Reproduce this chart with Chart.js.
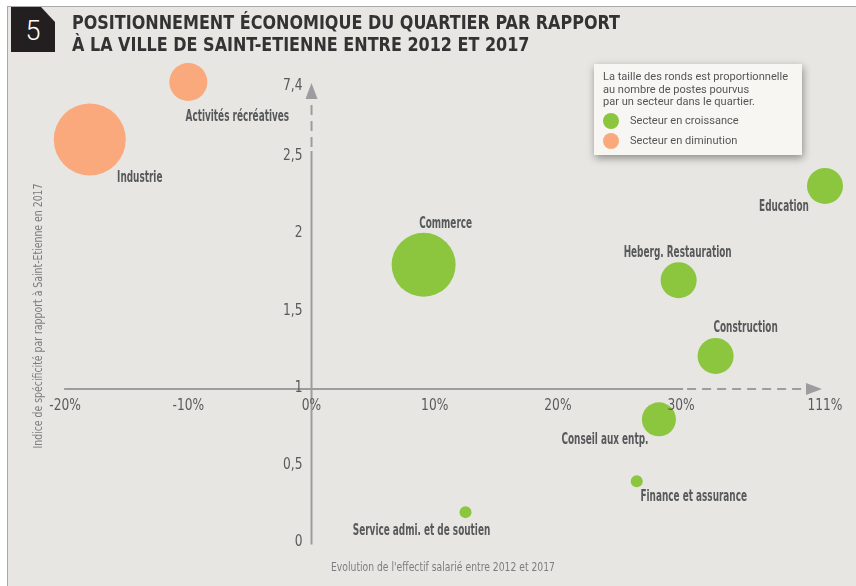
<!DOCTYPE html>
<html lang="fr">
<head>
<meta charset="utf-8">
<script src="https://cdn.jsdelivr.net/npm/chart.js@4.4.0/dist/chart.umd.min.js"></script>
<style>
  html, body { margin: 0; padding: 0; background: #fff; }
  body { width: 856px; height: 586px; position: relative; overflow: hidden; }
  #panel { position: absolute; left: 7px; top: 6px; right: -2px; bottom: -2px; background: #e7e6e2; border-top: 1px solid #a9a9a9; border-left: 1px solid #a9a9a9; }
  #num { position: absolute; left: 11px; top: 7px; width: 44px; height: 45px; background: #231f20; clip-path: polygon(0 0, 30px 0, 44px 15px, 44px 45px, 0 45px); color: #fff; font: 300 27px Roboto, sans-serif; text-align: center; line-height: 48px; }
  #titre { position: absolute; left: 72px; top: 11px; color: #333; font-family: "Liberation Sans Narrow", "DejaVu Sans Condensed", sans-serif; font-weight: bold; font-size: 20px; line-height: 22px; white-space: nowrap; transform-origin: left top; }
  #titre span { display: inline-block; }
  #graph { position: absolute; left: 0; top: 0; }
  #legende { position: absolute; left: 594px; top: 64px; width: 208px; height: 91px; background: #f7f6f3; box-shadow: 1px 3px 8px rgba(0,0,0,0.4); font-family: Roboto, "Noto Sans", sans-serif; color: #555; font-size: 11.5px; }
  #legende div { position: absolute; left: 9px; white-space: nowrap; line-height: 13px; transform-origin: left center; }
  #legende .rond { width: 16px; height: 16px; border-radius: 50%; left: 9px; }
  #legende .item { left: 36px; }
</style>
</head>
<body>
<div id="panel"></div>
<canvas id="graph" width="856" height="586"></canvas>
<div id="num">5</div>
<div id="titre"><span id="ligne1">POSITIONNEMENT ÉCONOMIQUE DU QUARTIER PAR RAPPORT</span><br><span>À LA VILLE DE SAINT-ETIENNE ENTRE 2012 ET 2017</span></div>
<div id="legende">
  <div id="leg1" style="top:6px">La taille des ronds est proportionnelle</div>
  <div style="top:19px">au nombre de postes pourvus</div>
  <div style="top:31px">par un secteur dans le quartier.</div>
  <div class="rond" style="top:49px; background:#8cc63f"></div>
  <div class="item" style="top:50px">Secteur en croissance</div>
  <div class="rond" style="top:69px; background:#f9a97c"></div>
  <div class="item" style="top:70px">Secteur en diminution</div>
</div>
<script>
// données
const secteurs = ['Industrie', 'Activités récréatives', 'Commerce', 'Education', 'Heberg. Restauration',
    'Construction', 'Conseil aux entp.', 'Finance et assurance', 'Service admi. et de soutien'];
const evolution = [-18, -10, 9.1, 111, 29.8, 32.8, 28.2, 26.4, 12.5];       // %
const specificite = [2.6, 7.4, 1.79, 2.3, 1.69, 1.2, 0.79, 0.39, 0.19];
const rayons = [36, 19, 32, 18, 18, 18, 17, 6, 6];                          // taille des ronds
const croissance = [false, false, true, true, true, true, true, true, true];

const ticksX = [-20, -10, 0, 10, 20, 30, 111];
const labelsX = ['-20%', '-10%', '0%', '10%', '20%', '30%', '111%'];
const ticksY = [0, 0.5, 1, 1.5, 2, 2.5, 7.4];
const labelsY = ['0', '0,5', '1', '1,5', '2', '2,5', '7,4'];

// décalage des étiquettes par rapport au centre des ronds
const decalages = [[50, 39], [49, 35], [22, -41], [-41, 21], [-1, -27], [30, -28], [-54, 21], [57, 16], [-44, 19]];

const VERT = '#8cc63f';
const ORANGE = '#f9a97c';
const GRIS = '#58595b';
const NARROW = '"Liberation Sans Narrow", "DejaVu Sans Condensed", sans-serif';

/* axes coupés */
function posX(v) { return v > 35 ? 35 + (v - 35) * (6.68 / 76) : v; }
function posY(v) { return v > 2.7 ? 2.7 + (v - 2.7) * (0.272 / 4.7) : v; }

function points(flag) {
    const pts = [];
    secteurs.forEach((s, i) => {
        if (croissance[i] === flag) pts.push({ x: posX(evolution[i]), y: posY(specificite[i]), r: rayons[i], i: i });
    });
    return pts;
}

function texte(ctx, s, x, y, sx) {
    ctx.save();
    ctx.translate(x, y);
    ctx.scale(sx, 1);
    ctx.fillText(s, 0, 0);
    ctx.restore();
}

function echelle(ctx, ref, largeur) {
    return largeur / ctx.measureText(ref).width;
}

const habillage = {
    id: 'habillage',
    beforeDatasetsDraw(chart) {
        const { ctx, scales: { x, y } } = chart;
        const x0 = x.getPixelForValue(0);
        const yAxe = y.getPixelForValue(1) + 2;
        ctx.save();
        ctx.strokeStyle = '#9d9d9f';
        ctx.fillStyle = '#9d9d9f';
        ctx.lineWidth = 2;

        // axe horizontal
        const xa = x.getPixelForValue(-20) - 1;
        const xb = x.getPixelForValue(30) + 2;
        const xTip = x.getPixelForValue(posX(111)) - 3;
        ctx.beginPath(); ctx.moveTo(xa, yAxe); ctx.lineTo(xb, yAxe); ctx.stroke();
        ctx.setLineDash([9, 6]);
        ctx.beginPath(); ctx.moveTo(xb + 4, yAxe); ctx.lineTo(xTip - 15, yAxe); ctx.stroke();
        ctx.setLineDash([]);
        ctx.beginPath(); ctx.moveTo(xTip, yAxe); ctx.lineTo(xTip - 16, yAxe - 6); ctx.lineTo(xTip - 16, yAxe + 6); ctx.closePath(); ctx.fill();

        // axe vertical
        const ya = y.getPixelForValue(0) + 3;
        const yb = y.getPixelForValue(2.5) - 4;
        const yTip = y.getPixelForValue(posY(7.4)) + 1;
        ctx.beginPath(); ctx.moveTo(x0, ya); ctx.lineTo(x0, yb); ctx.stroke();
        ctx.setLineDash([10, 6]);
        ctx.beginPath(); ctx.moveTo(x0, yb - 4); ctx.lineTo(x0, yTip + 15); ctx.stroke();
        ctx.setLineDash([]);
        ctx.beginPath(); ctx.moveTo(x0, yTip); ctx.lineTo(x0 - 6, yTip + 16); ctx.lineTo(x0 + 6, yTip + 16); ctx.closePath(); ctx.fill();
        ctx.restore();
    },
    afterDatasetsDraw(chart) {
        const { ctx, scales: { x, y } } = chart;
        const x0 = x.getPixelForValue(0);
        const yAxe = y.getPixelForValue(1) + 2;
        ctx.save();

        // graduations
        ctx.font = '15px ' + NARROW;
        ctx.fillStyle = '#5a5a5c';
        ctx.textBaseline = 'middle';
        let sx = echelle(ctx, '111%', 35);
        ctx.textAlign = 'center';
        ticksX.forEach((t, i) => texte(ctx, labelsX[i], x.getPixelForValue(posX(t)), yAxe + 17, sx));
        ctx.textAlign = 'right';
        ticksY.forEach((t, i) => texte(ctx, labelsY[i], x0 - 9, y.getPixelForValue(posY(t)) + (t > 5 ? 4 : 1), sx));

        // titres des axes
        ctx.font = '13px ' + NARROW;
        ctx.fillStyle = '#7d7d7f';
        ctx.textAlign = 'center';
        const tx = "Evolution de l'effectif salarié entre 2012 et 2017";
        texte(ctx, tx, 443, 568, echelle(ctx, tx, 224));
        const ty = 'Indice de spécificité par rapport à Saint-Etienne en 2017';
        ctx.save();
        ctx.translate(39, 316);
        ctx.rotate(-Math.PI / 2);
        texte(ctx, ty, 0, 0, echelle(ctx, ty, 265));
        ctx.restore();

        // étiquettes des secteurs
        ctx.font = 'bold 15px ' + NARROW;
        ctx.fillStyle = GRIS;
        ctx.textAlign = 'center';
        sx = echelle(ctx, 'Heberg. Restauration', 108);
        chart.data.datasets.forEach((ds, d) => {
            chart.getDatasetMeta(d).data.forEach((el, j) => {
                const i = ds.data[j].i;
                texte(ctx, secteurs[i], el.x + decalages[i][0], el.y + decalages[i][1], sx);
            });
        });
        ctx.restore();
    }
};

new Chart(document.getElementById('graph'), {
    type: 'bubble',
    data: {
        datasets: [{
            label: 'Secteur en croissance',
            data: points(true),
            backgroundColor: VERT,
            borderWidth: 0,
            clip: false
        }, {
            label: 'Secteur en diminution',
            data: points(false),
            backgroundColor: ORANGE,
            borderWidth: 0,
            clip: false
        }]
    },
    options: {
        responsive: false,
        animation: false,
        events: [],
        layout: { padding: { left: 40, right: 40, top: 46.8, bottom: 40 } },
        scales: {
            x: { type: 'linear', display: false, min: -22.04, max: 40.95 },
            y: { type: 'linear', display: false, min: -0.0291, max: 3.2 }
        },
        plugins: {
            legend: { display: false },
            tooltip: { enabled: false }
        }
    },
    plugins: [habillage]
});

/* ajustement des largeurs de texte */
function ajuster(el, largeur) {
    el.style.display = 'inline-block';
    const w = el.getBoundingClientRect().width;
    return largeur / w;
}
const s1 = ajuster(document.getElementById('ligne1'), 548);
document.getElementById('titre').style.transform = 'scaleX(' + s1 + ')';
const s2 = ajuster(document.getElementById('leg1'), 185);
document.querySelectorAll('#legende div:not(.rond)').forEach(el => {
    el.style.transform = 'scaleX(' + s2 + ')';
});
</script>
</body>
</html>
